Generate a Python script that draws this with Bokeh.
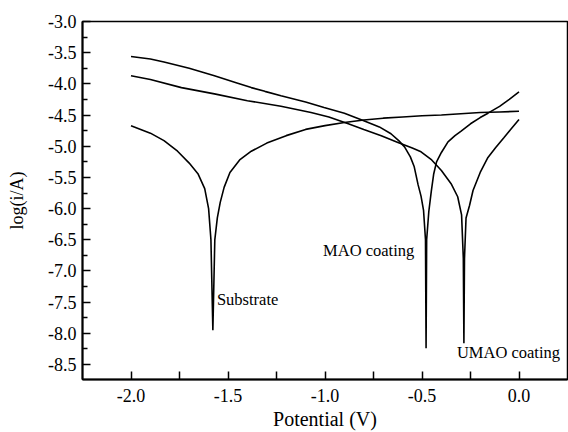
from bokeh.plotting import figure
from bokeh.models import Range1d, FixedTicker, PrintfTickFormatter
from bokeh.core.properties import value
from bokeh.embed import file_html
from bokeh.resources import INLINE

# Substrate curve
sub_x = [-2.00, -1.90, -1.83, -1.76, -1.70, -1.655, -1.62, -1.60, -1.588, -1.578,
         -1.568, -1.555, -1.54, -1.52, -1.49, -1.44, -1.38, -1.30, -1.20, -1.10,
         -1.00, -0.90, -0.80, -0.70, -0.60, -0.50, -0.40, -0.30, -0.20, -0.10, 0.00]
sub_y = [-4.67, -4.79, -4.91, -5.08, -5.27, -5.44, -5.68, -6.00, -6.50, -7.95,
         -6.50, -6.15, -5.90, -5.66, -5.42, -5.22, -5.08, -4.95, -4.83, -4.73,
         -4.67, -4.62, -4.58, -4.55, -4.53, -4.51, -4.50, -4.48, -4.46, -4.45, -4.44]

# MAO coating curve
mao_x = [-2.00, -1.90, -1.83, -1.70, -1.57, -1.45, -1.38, -1.31, -1.227, -1.10, -1.005,
         -0.90, -0.80, -0.72, -0.66, -0.62, -0.59, -0.56, -0.54, -0.52, -0.505,
         -0.492, -0.482, -0.479, -0.476, -0.465, -0.452, -0.44, -0.425, -0.40, -0.366,
         -0.33, -0.30, -0.25, -0.20, -0.16, -0.10, -0.05, 0.00]
mao_y = [-3.56, -3.60, -3.65, -3.75, -3.87, -3.99, -4.06, -4.12, -4.19, -4.29, -4.38,
         -4.47, -4.59, -4.69, -4.80, -4.91, -5.01, -5.17, -5.33, -5.62, -5.80,
         -6.03, -6.50, -8.24, -6.50, -6.05, -5.72, -5.45, -5.25, -5.10, -4.93,
         -4.83, -4.76, -4.64, -4.54, -4.47, -4.36, -4.25, -4.13]

# UMAO coating curve
umao_x = [-2.00, -1.90, -1.74, -1.57, -1.40, -1.227, -1.072, -0.98, -0.88, -0.80,
          -0.71, -0.624, -0.55, -0.505, -0.45, -0.40, -0.35, -0.316, -0.296, -0.287,
          -0.284, -0.281, -0.273, -0.255, -0.237, -0.20, -0.16, -0.12, -0.077, -0.04, 0.00]
umao_y = [-3.87, -3.93, -4.06, -4.16, -4.27, -4.36, -4.46, -4.53, -4.64, -4.73,
          -4.83, -4.94, -5.03, -5.09, -5.22, -5.39, -5.60, -5.81, -6.10, -6.80,
          -8.16, -6.80, -6.15, -5.95, -5.71, -5.42, -5.18, -5.02, -4.86, -4.72, -4.57]

label_text = ["Substrate", "MAO coating", "UMAO coating"]
label_x = [-1.557, -1.010, -0.320]
label_y = [-7.45, -6.67, -8.315]

x_ticks = [-2.0, -1.5, -1.0, -0.5, 0.0]
x_minor = [-1.75, -1.25, -0.75, -0.25]
y_ticks = [-3.0, -3.5, -4.0, -4.5, -5.0, -5.5, -6.0, -6.5, -7.0, -7.5, -8.0, -8.5]
y_minor = [-3.25, -3.75, -4.25, -4.75, -5.25, -5.75, -6.25, -6.75, -7.25, -7.75, -8.25]

FONT = "Liberation Serif"

p = figure(width=568, height=432, output_backend="svg", toolbar_location=None,
           x_range=Range1d(-2.25, 0.25), y_range=Range1d(-8.74, -3.0),
           min_border_left=82, min_border_right=1, min_border_top=21, min_border_bottom=53)
p.background_fill_color = "white"
p.border_fill_color = "white"
p.xgrid.visible = False
p.ygrid.visible = False
p.outline_line_color = "black"
p.outline_line_width = 1.5

for ax in (p.xaxis[0], p.yaxis[0]):
    ax.axis_line_width = 2
    ax.axis_line_color = "black"
    ax.major_tick_in = 8
    ax.major_tick_out = 0
    ax.minor_tick_out = 0
    ax.major_tick_line_width = 1.5
    ax.minor_tick_line_width = 1.5
    ax.major_label_text_font = FONT
    ax.major_label_text_font_size = "18px"
    ax.major_label_text_color = "black"
    ax.axis_label_text_font = FONT
    ax.axis_label_text_font_style = "normal"
    ax.axis_label_text_color = "black"
    ax.formatter = PrintfTickFormatter(format="%.1f")

p.xaxis.ticker = FixedTicker(ticks=x_ticks, minor_ticks=x_minor)
p.yaxis.ticker = FixedTicker(ticks=y_ticks, minor_ticks=y_minor)
p.xaxis.minor_tick_in = 8
p.yaxis.minor_tick_in = 5
p.xaxis.major_label_standoff = 9
p.yaxis.major_label_standoff = 6
p.xaxis.axis_label = "Potential (V)"
p.yaxis.axis_label = "log(i/A)"
p.xaxis.axis_label_text_font_size = "20px"
p.yaxis.axis_label_text_font_size = "18px"
p.xaxis.axis_label_standoff = 3
p.yaxis.axis_label_standoff = 18

for xs, ys in ((sub_x, sub_y), (mao_x, mao_y), (umao_x, umao_y)):
    p.line(xs, ys, line_color="black", line_width=1.6)

p.text(x=label_x, y=label_y, text=label_text, text_font=value(FONT),
       text_font_size="16.5px", text_color="black", text_align="left",
       text_baseline="middle")

open("out.html", "w").write(file_html(p, INLINE))
